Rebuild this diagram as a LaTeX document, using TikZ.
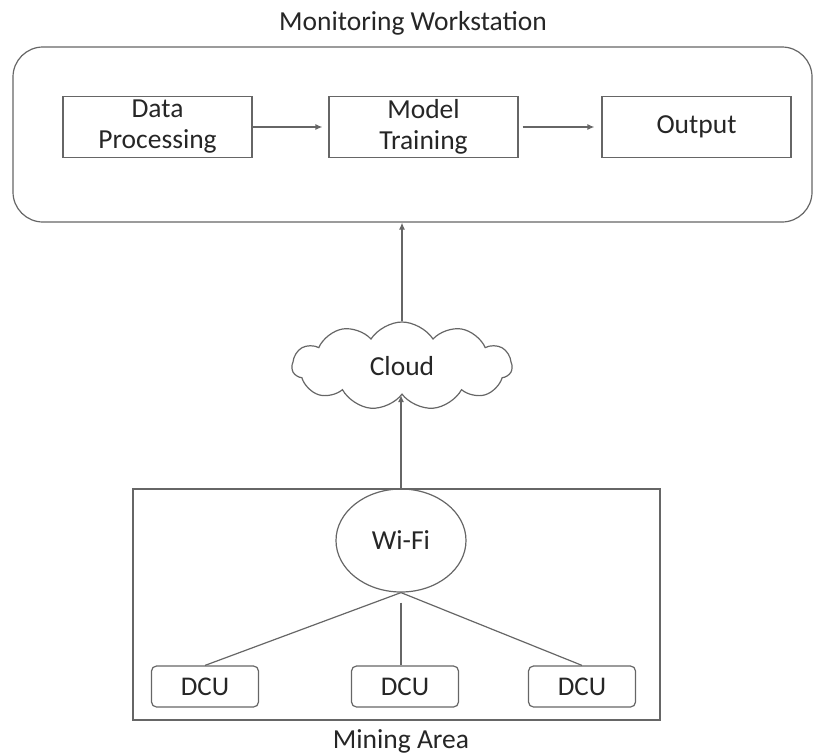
\documentclass[tikz,border=0pt]{standalone}
\usepackage{fontspec}
\setmainfont{Carlito}
\usepackage{tikz}
\usetikzlibrary{positioning, arrows.meta, shapes.geometric, shapes.symbols}
\definecolor{mygray}{gray}{0.4}
\definecolor{mytext}{gray}{0.15}

\begin{document}
\begin{tikzpicture}
[x=1pt, y=-1pt,
 blk/.style={rectangle, draw=mygray, line width=1.2pt, minimum width=189pt, minimum height=61pt, inner sep=0pt, align=center, text=mytext, font=\fontsize{27.5}{31}\selectfont},
 dcu/.style={rectangle, rounded corners=5pt, draw=mygray, line width=1.2pt, minimum width=107pt, minimum height=41pt, inner sep=0pt, text=mytext, font=\fontsize{27}{31}\selectfont},
 lbl/.style={text=mytext, font=\fontsize{27.5}{31}\selectfont},
 ln/.style={line width=1.2pt, draw=mygray},
 ->/.style={line width=1.2pt, draw=mygray, arrows={-Latex[length=7pt, width=6pt]}}]

\useasboundingbox (0,0) rectangle (813,755);

% outer frames and their labels
\node[ln, rounded corners=30pt, minimum width=799pt, minimum height=175pt, inner sep=0pt] (ws) at (412.5,134.5) {};
\node[ln, minimum width=527pt, minimum height=231pt, inner sep=0pt] (ma) at (396.5,604.5) {};
\node[lbl] (wslbl) at (413,23) {Monitoring Workstation};
\node[lbl] (malbl) at (401,741) {Mining Area};

% workstation blocks
\node[blk] (dp) at (157.5,127) {Data\\Processing};
\node[blk] (mt) at (423.5,127) {Model\\Training};
\node[blk] (out) at (696.5,127) {Output};

% cloud and wifi
\node[cloud, cloud puffs=11, cloud puff arc=115, aspect=2.5, ln, minimum width=220pt, minimum height=88pt, inner sep=0pt, lbl] (cloud) at (402,366) {Cloud};
\node[ellipse, ln, minimum width=130pt, minimum height=103pt, inner sep=0pt, lbl] (wifi) at (401,540.5) {Wi-Fi};

% data collection units
\node[dcu] (d1) at (205,686.5) {DCU};
\node[dcu] (d2) at (405,686.5) {DCU};
\node[dcu] (d3) at (582,686.5) {DCU};

  \draw [->, shorten >=6pt] (dp) -- (mt);
  \draw [->, shorten <=4pt, shorten >=7pt] (mt) -- (out);
  \draw [->] (cloud.north) -- (cloud.north |- ws.south);
  \draw [->] (wifi.north) -- (wifi.north |- cloud.south);
  \draw [ln] (wifi.south) -- (d1.north);
  \draw [ln] ([yshift=-10pt]wifi.south) -- (wifi.south |- d2.north);
  \draw [ln] (wifi.south) -- (d3.north);

\end{tikzpicture}
\end{document}
